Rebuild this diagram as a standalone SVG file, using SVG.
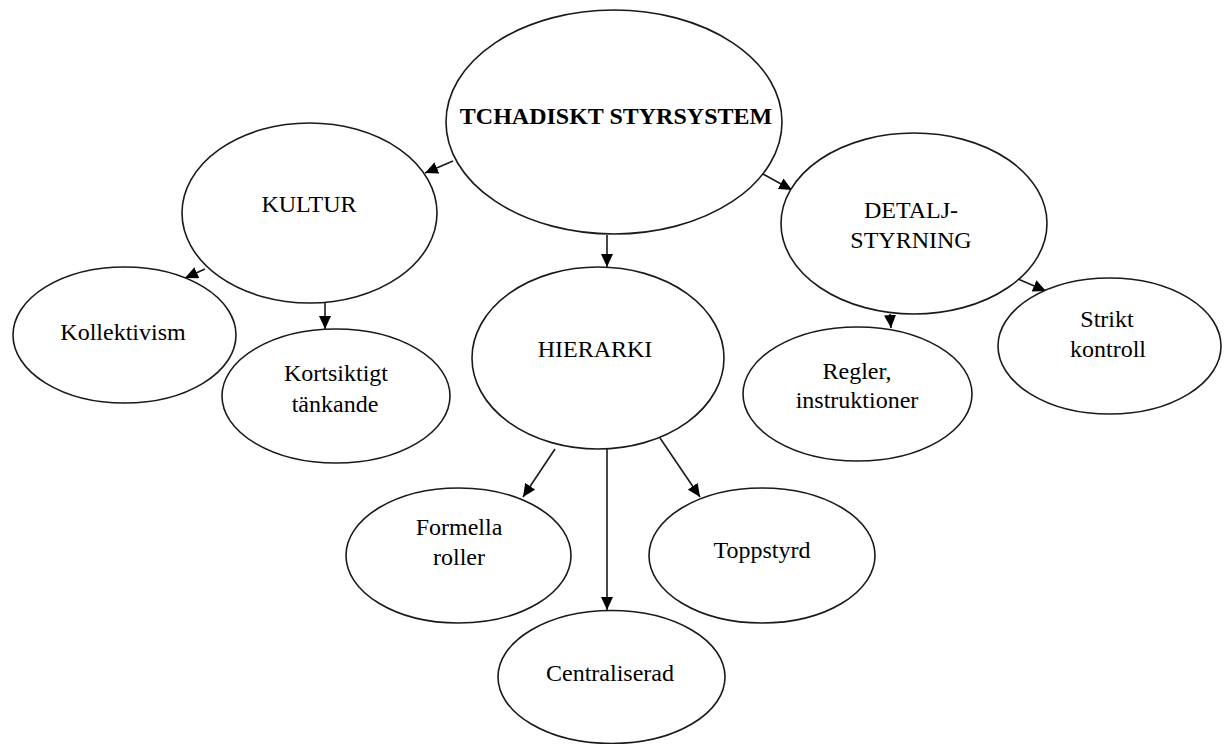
<svg xmlns="http://www.w3.org/2000/svg" width="1230" height="744" viewBox="0 0 1230 744">
<defs>
<style>
.node ellipse{fill:#fff;stroke:#1a1a1a;stroke-width:1.6}
.node text{font-family:"Liberation Serif","Times New Roman",serif;font-size:24px;fill:#000;text-anchor:middle}
.node text.b{font-weight:bold}
.conn line{stroke:#1a1a1a;stroke-width:1.6;marker-end:url(#ah)}
</style>
<marker id="ah" markerUnits="userSpaceOnUse" markerWidth="14" markerHeight="12" refX="13" refY="6" orient="auto">
<path d="M0,0 L13,6 L0,12 Z" fill="#000"/>
</marker>
</defs>
<rect width="1230" height="744" fill="#fff"/>
<g id="connectors" class="conn">
<line x1="453" y1="161" x2="425" y2="173"/>
<line x1="763" y1="174" x2="792" y2="190"/>
<line x1="607" y1="235" x2="607" y2="267"/>
<line x1="205" y1="269" x2="185" y2="278"/>
<line x1="325" y1="303" x2="325" y2="329"/>
<line x1="890" y1="314" x2="891" y2="328"/>
<line x1="1018" y1="279" x2="1046" y2="291"/>
<line x1="555" y1="449" x2="523" y2="497"/>
<line x1="607" y1="449" x2="607" y2="610"/>
<line x1="660" y1="438" x2="700" y2="497"/>
</g>
<g id="n-tchadiskt" class="node">
<ellipse cx="614" cy="122" rx="168" ry="112"/>
<text class="b" x="616" y="124">TCHADISKT STYRSYSTEM</text>
</g>
<g id="n-kultur" class="node">
<ellipse cx="309.5" cy="213" rx="127.5" ry="90"/>
<text x="309" y="212">KULTUR</text>
</g>
<g id="n-detalj" class="node">
<ellipse cx="914" cy="223.5" rx="133" ry="90.5"/>
<text x="911" y="218">DETALJ-</text>
<text x="911" y="248">STYRNING</text>
</g>
<g id="n-hierarki" class="node">
<ellipse cx="598" cy="358" rx="126" ry="91"/>
<text x="595" y="357">HIERARKI</text>
</g>
<g id="n-kollektivism" class="node">
<ellipse cx="124.5" cy="335" rx="111.5" ry="68"/>
<text x="123" y="340">Kollektivism</text>
</g>
<g id="n-kortsiktigt" class="node">
<ellipse cx="336" cy="396" rx="114" ry="67"/>
<text x="336" y="381">Kortsiktigt</text>
<text x="335" y="412">tänkande</text>
</g>
<g id="n-regler" class="node">
<ellipse cx="857.5" cy="394" rx="114.5" ry="67"/>
<text x="857" y="379">Regler,</text>
<text x="857" y="408">instruktioner</text>
</g>
<g id="n-strikt" class="node">
<ellipse cx="1109.5" cy="346" rx="111.5" ry="68"/>
<text x="1107" y="327">Strikt</text>
<text x="1108" y="357">kontroll</text>
</g>
<g id="n-formella" class="node">
<ellipse cx="458.5" cy="555.5" rx="112.5" ry="67.5"/>
<text x="459" y="535">Formella</text>
<text x="459" y="565">roller</text>
</g>
<g id="n-toppstyrd" class="node">
<ellipse cx="762" cy="555.5" rx="113" ry="67.5"/>
<text x="762" y="558">Toppstyrd</text>
</g>
<g id="n-centraliserad" class="node">
<ellipse cx="611.5" cy="677" rx="113.5" ry="66.5"/>
<text x="610" y="681">Centraliserad</text>
</g>
</svg>
